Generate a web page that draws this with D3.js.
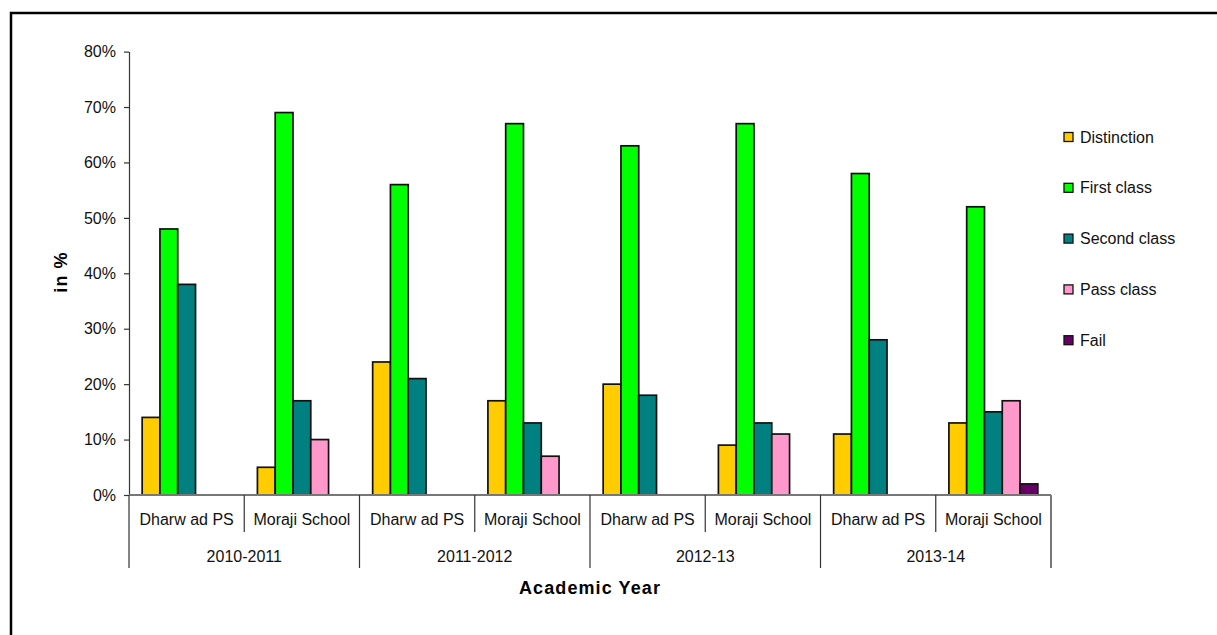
<!DOCTYPE html>
<html>
<head>
<meta charset="utf-8">
<script src="https://cdn.jsdelivr.net/npm/d3@7"></script>
<style>
  html, body { margin: 0; padding: 0; background: #fff; }
  svg { display: block; font-family: "Liberation Sans", Arial, sans-serif; }
</style>
</head>
<body>
<svg id="chart" width="1217" height="635"></svg>
<script>
// Academic years (outer categories) and schools (inner categories)
const years = ["2010-2011", "2011-2012", "2012-13", "2013-14"];
const schools = ["Dharw ad PS", "Moraji School"];
const seriesNames = ["Distinction", "First class", "Second class", "Pass class", "Fail"];
const seriesColors = ["#FFCC00", "#00FF00", "#008080", "#FF99CC", "#660066"];
const yTicks = [0, 10, 20, 30, 40, 50, 60, 70, 80];

// Result percentages, one array per class, ordered year by year, Dharwad then Moraji
const distinction = [14, 5, 24, 17, 20, 9, 11, 13];
const firstClass  = [48, 69, 56, 67, 63, 67, 58, 52];
const secondClass = [38, 17, 21, 13, 18, 13, 28, 15];
const passClass   = [0, 10, 0, 7, 0, 11, 0, 17];
const fail        = [0, 0, 0, 0, 0, 0, 0, 2];

const seriesValues = [distinction, firstClass, secondClass, passClass, fail];

const svg = d3.select("#chart");

// Outer frame (runs off the right and bottom edges)
svg.append("rect")
  .attr("x", 11).attr("y", 13)
  .attr("width", 1300).attr("height", 700)
  .attr("fill", "none").attr("stroke", "#000").attr("stroke-width", 2.5);

const plot = { left: 129, right: 1051, top: 51.6, bottom: 495 };

const y = d3.scaleLinear().domain([0, 80]).range([plot.bottom, plot.top]);
const xYear = d3.scaleBand().domain(years).range([plot.left, plot.right]).padding(0);
const xSchool = d3.scaleBand().domain(schools).range([0, xYear.bandwidth()]).padding(0);
const xSeries = d3.scaleBand().domain(seriesNames).range([0, xSchool.bandwidth()])
  .paddingInner(0).paddingOuter(0.74);

// Y axis
const yAxis = d3.axisLeft(y).tickValues(yTicks).tickFormat(d => d + "%")
  .tickSizeInner(5).tickSizeOuter(0).tickPadding(8);
const yg = svg.append("g").attr("transform", `translate(${plot.left},0)`).call(yAxis);
yg.select(".domain").attr("stroke", "#333").attr("stroke-width", 1.2);
yg.selectAll(".tick line").attr("stroke", "#333").attr("stroke-width", 1.2);
yg.selectAll(".tick text").attr("font-size", 16).attr("fill", "#111")
  .attr("font-family", "Liberation Sans, Arial, sans-serif");

// Bars
const cells = [];
years.forEach((yr, yi) => {
  schools.forEach((sc, si) => {
    const idx = yi * schools.length + si;
    seriesNames.forEach((name, k) => {
      const v = seriesValues[k][idx];
      if (v > 0) cells.push({ yr, sc, name, k, v });
    });
  });
});

svg.append("g").selectAll("rect")
  .data(cells)
  .join("rect")
  .attr("x", d => xYear(d.yr) + xSchool(d.sc) + xSeries(d.name))
  .attr("y", d => y(d.v))
  .attr("width", xSeries.bandwidth())
  .attr("height", d => y(0) - y(d.v))
  .attr("fill", d => seriesColors[d.k])
  .attr("stroke", "#111")
  .attr("stroke-width", 1.7);

// X axis baseline
svg.append("line")
  .attr("x1", plot.left).attr("x2", plot.right)
  .attr("y1", y(0)).attr("y2", y(0))
  .attr("stroke", "#777").attr("stroke-width", 2);

// Category separators: school boundaries short, year boundaries long
const xg = svg.append("g");
years.forEach((yr, yi) => {
  schools.forEach((sc, si) => {
    const x0 = xYear(yr) + xSchool(sc);
    if (si > 0) {
      xg.append("line").attr("x1", x0).attr("x2", x0)
        .attr("y1", y(0)).attr("y2", y(0) + 37)
        .attr("stroke", "#333").attr("stroke-width", 1.2);
    }
    xg.append("text")
      .attr("x", x0 + xSchool.bandwidth() / 2)
      .attr("y", y(0) + 24)
      .attr("dy", "0.35em")
      .attr("text-anchor", "middle")
      .attr("font-size", 16).attr("fill", "#111")
      .text(sc);
  });
  xg.append("text")
    .attr("x", xYear(yr) + xYear.bandwidth() / 2)
    .attr("y", y(0) + 61)
    .attr("dy", "0.35em")
    .attr("text-anchor", "middle")
    .attr("font-size", 16).attr("fill", "#111")
    .text(yr);
});
xYear.domain().concat(["end"]).forEach((yr, i) => {
  const xv = i < years.length ? xYear(yr) : plot.right;
  xg.append("line").attr("x1", xv).attr("x2", xv)
    .attr("y1", y(0)).attr("y2", y(0) + 73)
    .attr("stroke", i === years.length ? "#777" : "#333").attr("stroke-width", i === years.length ? 2 : 1.2);
});

// Axis titles
svg.append("text")
  .attr("x", (plot.left + plot.right) / 2)
  .attr("y", 588).attr("dy", "0.35em")
  .attr("text-anchor", "middle")
  .attr("font-size", 18).attr("font-weight", "bold")
  .attr("letter-spacing", 1.1)
  .attr("fill", "#000")
  .text("Academic Year");

svg.append("text")
  .attr("transform", "translate(61,272) rotate(-90)")
  .attr("dy", "0.35em")
  .attr("text-anchor", "middle")
  .attr("font-size", 18).attr("font-weight", "bold")
  .attr("letter-spacing", 1.1)
  .attr("fill", "#000")
  .text("in %");

// Legend
const legend = svg.append("g").attr("transform", "translate(1064,137)");
const li = legend.selectAll("g").data(seriesNames).join("g")
  .attr("transform", (d, i) => `translate(0,${i * 50.8})`);
li.append("rect")
  .attr("x", 0).attr("y", -4.5).attr("width", 9).attr("height", 9)
  .attr("fill", (d, i) => seriesColors[i])
  .attr("stroke", "#111").attr("stroke-width", 1.3);
li.append("text")
  .attr("x", 16).attr("y", 0).attr("dy", "0.35em")
  .attr("font-size", 16).attr("fill", "#111")
  .text(d => d);
</script>
</body>
</html>
